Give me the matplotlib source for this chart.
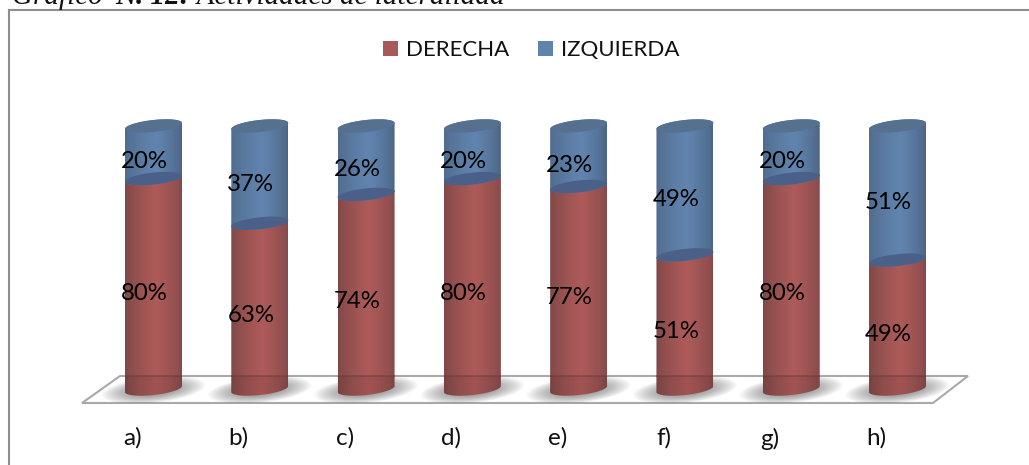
import numpy as np
import matplotlib
matplotlib.use("Agg")
import matplotlib.pyplot as plt
from matplotlib.patches import Patch, Polygon
from matplotlib.transforms import ScaledTranslation

categories = ["a)", "b)", "c)", "d)", "e)", "f)", "g)", "h)"]
derecha = [80, 63, 74, 80, 77, 51, 80, 49]
izquierda = [20, 37, 26, 20, 23, 49, 20, 51]
series_names = ["DERECHA", "IZQUIERDA"]
title_parts = [("Gráfico ", "normal"), ("N. 12:", "bold"), (" Actividades de lateralidad", "normal")]

W, H = 1029, 465
PX_X = 106.29   # px per category
PX_Y = 2.63     # px per percent
X0, Y0 = 153.5, 389.0   # pixel position of category 0 / value 0
L, T = 9, 10

def dx(px): return px / PX_X
def dy(px): return px / PX_Y
def fx(px): return (px - X0) / PX_X
def fy(px): return (Y0 - px) / PX_Y

fig = plt.figure(figsize=(W / 100, H / 100), dpi=100, facecolor="white")
ax = fig.add_axes([L / W, 0, 1 - L / W, 1 - T / H])
ax.set_xlim(fx(L), fx(W))
ax.set_ylim(fy(H), fy(T))

for s in ("right", "bottom"):
    ax.spines[s].set_visible(False)
for s in ("left", "top"):
    ax.spines[s].set_color("#8e8e8e")
    ax.spines[s].set_linewidth(1.5)
ax.set_yticks([])
ax.set_xticks(range(len(categories)), categories, fontsize=17.5, family="Lato", color="#111111")
ax.tick_params(axis="x", length=0, pad=-27)
for lab in ax.get_xticklabels():
    lab.set_transform(lab.get_transform() + ScaledTranslation(-21 / 100, 0, fig.dpi_scale_trans))

# floor
floor_px = [(82, 403), (933, 403), (968, 376), (120, 376)]
floor_xy = [(fx(a), fy(b)) for a, b in floor_px]
floor = Polygon(floor_xy, closed=True, fc="white", ec="#a9a9a9", lw=1.5, zorder=1)
ax.add_patch(floor)

A, B, TILT = dx(28.5), dy(6.0), dy(3.0)

def arc(cx, yc, t0, t1, n=60):
    t = np.linspace(t0, t1, n)
    return np.column_stack([cx + A * np.cos(t), yc + B * np.sin(t) + TILT * np.cos(t)])

def cmap_strip(edge_l, mid, edge_r):
    e0, m, e1 = [np.array(matplotlib.colors.to_rgb(c)) for c in (edge_l, mid, edge_r)]
    u = np.linspace(0, 1, 200)
    out = np.zeros((1, 200, 3))
    for i, v in enumerate(u):
        k = v / 0.55 if v < 0.55 else (1 - v) / 0.45
        k = k ** 0.7
        edge = e0 if v < 0.55 else e1
        out[0, i] = edge * (1 - k) + m * k
    return out

RED = cmap_strip("#7c4746", "#ae5b59", "#84494a")
BLUE = cmap_strip("#506a8c", "#6185b0", "#4c6383")

def body(cx, y0, y1, strip, z):
    pts = np.vstack([arc(cx, y0, np.pi, 2 * np.pi), arc(cx, y1, 0, np.pi)])
    poly = Polygon(pts, closed=True, fc="none", ec="none", zorder=z)
    ax.add_patch(poly)
    im = ax.imshow(strip, extent=(cx - A, cx + A, y0 - 3 * B, y1 + 3 * B), aspect="auto", zorder=z, interpolation="bilinear")
    im.set_clip_path(poly)

# shadows: nested translucent ellipses, clipped to the floor
for i in range(len(categories)):
    for f in np.linspace(1.0, 0.35, 22):
        t = np.linspace(0, 2 * np.pi, 80)
        sx = i + dx(52 * f) * np.cos(t)
        sy = fy(390) + dy(13 * f) * np.sin(t) + dy(5 * f) * np.cos(t)
        p = Polygon(np.column_stack([sx, sy]), closed=True, fc="#555555", ec="none", alpha=0.035, zorder=2)
        ax.add_patch(p)
        p.set_clip_path(floor)

# cylinders
back_y = fy(376)
for i, (d, z) in enumerate(zip(derecha, izquierda)):
    body(i, 0, d, RED, 3)
    body(i, d, d + z, BLUE, 3.1)
    ax.add_patch(Polygon(arc(i, d, 0, 2 * np.pi), closed=True, fc="#4a6088", ec="none", zorder=3.2))
    ax.add_patch(Polygon(arc(i, d + z, 0, 2 * np.pi), closed=True, fc="#56708f", ec="none", zorder=3.2))
    # the floor shows faintly through the foot of each cylinder
    low = arc(i, 0, np.pi, 2 * np.pi)
    ax.add_patch(Polygon(np.vstack([low, [[i + A, back_y], [i - A, back_y]]]), closed=True,
                         fc="black", ec="none", alpha=0.07, zorder=3.3))
    ax.plot([i - A, i + A], [back_y, back_y], color="#6a3a3a", alpha=0.55, lw=1.2, zorder=3.4,
            solid_capstyle="butt")
    for val, bottom in ((d, 0), (z, d)):
        ax.annotate(f"{val}%", (i, bottom + val / 2), xytext=(-9 * 0.72, -9.5 * 0.72),
                    textcoords="offset points", ha="center", va="center",
                    fontsize=17.3, family="Lato", color="black", zorder=5)

ax.set_xlim(fx(L), fx(W))
ax.set_ylim(fy(H), fy(T))

ax.legend(handles=[Patch(fc="#a85a58", label=series_names[0]), Patch(fc="#6083ab", label=series_names[1])],
          loc="center", bbox_to_anchor=((531.5 - L) / (W - L), (H - 50) / (H - T)), ncol=2, frameon=False,
          prop={"family": "Lato", "size": 16}, handlelength=0.68, handleheight=0.66,
          handletextpad=0.36, columnspacing=1.3, borderpad=0, labelcolor="#111111")

# title, clipped by the top of the picture as in the reference
r = fig.canvas.get_renderer()
px = 12
for txt, wt in title_parts:
    t = fig.text(px / W, 1 - 3.5 / H, txt, family="Liberation Serif", style="italic", weight=wt,
                 fontsize=21, va="baseline", ha="left", color="#111111")
    px += t.get_window_extent(r).width + (5 if txt.endswith(" ") else 0)

fig.savefig("out.png", dpi=100)
